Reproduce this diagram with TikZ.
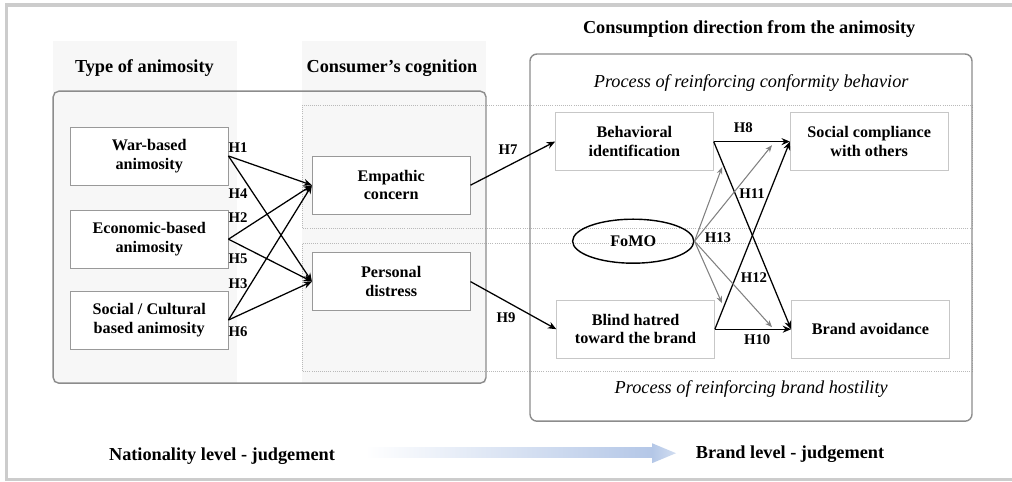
\documentclass[tikz,border=0pt]{standalone}
\usepackage{fontspec}
\setmainfont{Liberation Serif}
\usetikzlibrary{arrows.meta,shapes.geometric}

\newcommand{\bxfont}{\fontsize{11.5}{13}\selectfont\bfseries}
\newcommand{\hdfont}{\fontsize{13}{15}\selectfont\bfseries}
\newcommand{\prfont}{\fontsize{13}{15}\selectfont\itshape}
\newcommand{\hypfont}{\fontsize{10.5}{12}\selectfont\bfseries}

\definecolor{colshade}{HTML}{F7F7F7}
\definecolor{frameline}{HTML}{CCCCCC}
\definecolor{boxline}{HTML}{8C8C8C}
\definecolor{levelblue}{HTML}{B4C7E7}

\tikzset{
	construct/.style={draw=black!40, fill=white, minimum width=3.95cm, minimum height=1.45cm, inner sep=2pt, align=center, font=\bxfont},
	outcome/.style={construct, draw=black!22},
	hyp/.style={font=\hypfont, inner sep=1pt},
	heading/.style={font=\hdfont},
	process/.style={font=\prfont},
	link/.style={draw=black, line width=0.9pt, -{Stealth[length=6pt,width=5pt]}},
	moderate/.style={draw=black!50, line width=0.75pt, -{Stealth[length=5pt,width=4pt]}},
	zone/.style={draw=gray!55, line width=0.5pt, dash pattern=on 0.5pt off 1pt},
}

\begin{document}
\begin{tikzpicture}
	\useasboundingbox (0.00,0.00) rectangle (25.30,12.03);
	\draw[draw=frameline, line width=2.5pt] (25.60,11.90) -- (0.16,11.90) -- (0.16,0.04) -- (25.60,0.04);
	% shaded columns and frames
	\fill[colshade] (1.33,2.45) rectangle (5.93,11.00);
	\fill[colshade] (7.55,2.45) rectangle (12.15,11.00);
	\draw[zone] (7.55,6.33) rectangle (24.30,9.40);
	\draw[zone] (7.55,2.75) rectangle (24.30,5.95);
	\draw[draw=boxline, line width=1pt, rounded corners=4pt] (1.33,2.45) rectangle (12.15,9.75);
	\draw[draw=boxline, line width=1pt, rounded corners=5pt] (13.25,1.50) rectangle (24.30,10.68);
	\node[heading] (typ) at (3.61,10.33) {Type of animosity};
	\node[heading] (cog) at (9.80,10.33) {Consumer’s cognition};
	\node[heading] (dir) at (18.73,11.30) {Consumption direction from the animosity};
	\node[process] (conf) at (18.78,9.95) {Process of reinforcing conformity behavior};
	\node[process] (host) at (18.78,2.30) {Process of reinforcing brand hostility};
	% constructs
	\node[construct] (war) at (3.73,8.13) {War-based\\animosity};
	\node[construct] (eco) at (3.73,6.05) {Economic-based\\animosity};
	\node[construct] (soc) at (3.73,4.03) {Social / Cultural\\based animosity};
	\node[construct] (emp) at (9.78,7.40) {Empathic\\concern};
	\node[construct] (dis) at (9.78,4.99) {Personal\\distress};
	\node[outcome] (beh) at (15.86,8.49) {Behavioral\\identification};
	\node[outcome] (comp) at (21.73,8.49) {Social compliance\\with others};
	\node[outcome] (hat) at (15.89,3.80) {Blind hatred\\toward the brand};
	\node[outcome] (avo) at (21.76,3.80) {Brand avoidance};
	\node[ellipse, draw=black, line width=1pt, minimum width=3.03cm, minimum height=1.10cm, font=\bxfont] (fomo) at (15.83,6.00) {FoMO};
	% hypotheses
	\draw[link] (war.east) -- (emp.west);
	\draw[link] (war.east) -- (dis.west);
	\draw[link] (eco.east) -- (emp.west);
	\draw[link] (eco.east) -- (dis.west);
	\draw[link] (soc.east) -- (emp.west);
	\draw[link] (soc.east) -- (dis.west);
	\draw[link] (emp.east) -- (beh.west);
	\draw[link] (dis.east) -- (hat.west);
	\draw[link] (beh.east) -- (comp.west);
	\draw[link] (beh.east) -- (avo.west);
	\draw[link] (hat.east) -- (avo.west);
	\draw[link] (hat.east) -- (comp.west);
	\coordinate (m1) at (18.05,7.85);
	\coordinate (m2) at (19.30,8.40);
	\coordinate (m3) at (18.05,4.45);
	\coordinate (m4) at (19.30,3.85);
	\draw[moderate] (fomo.east) -- (m1);
	\draw[moderate] (fomo.east) -- (m2);
	\draw[moderate] (fomo.east) -- (m3);
	\draw[moderate] (fomo.east) -- (m4);
	\node[hyp] (h1) at (5.95,8.35) {H1};
	\node[hyp] (h4) at (5.95,7.20) {H4};
	\node[hyp] (h2) at (5.95,6.60) {H2};
	\node[hyp] (h5) at (5.95,5.55) {H5};
	\node[hyp] (h3) at (5.95,4.93) {H3};
	\node[hyp] (h6) at (5.95,3.75) {H6};
	\node[hyp] (h7) at (12.70,8.28) {H7};
	\node[hyp] (h9) at (12.65,4.08) {H9};
	\node[hyp] (h8) at (18.58,8.83) {H8};
	\node[hyp] (h10) at (18.93,3.53) {H10};
	\node[hyp] (h11) at (18.80,7.18) {H11};
	\node[hyp] (h12) at (18.85,5.10) {H12};
	\node[hyp] (h13) at (17.95,6.10) {H13};
	% level arrow
	\shade[left color=white, right color=levelblue] (9.13,0.58) rectangle (16.30,0.83);
	\shade[left color=levelblue, right color=levelblue!60] (16.30,0.45) -- (16.90,0.70) -- (16.30,0.95) -- cycle;
	\node[heading] (nat) at (5.55,0.63) {Nationality level - judgement};
	\node[heading] (brl) at (19.75,0.68) {Brand level - judgement};
\end{tikzpicture}
\end{document}
